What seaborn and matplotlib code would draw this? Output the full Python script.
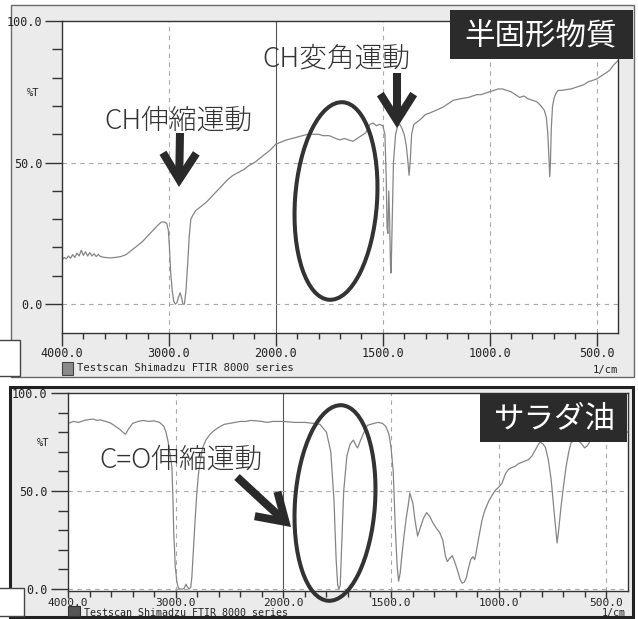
import numpy as np
import pandas as pd
import matplotlib
matplotlib.use('Agg')
import matplotlib.pyplot as plt
import seaborn as sns
from matplotlib.patches import Rectangle, Ellipse, FancyArrowPatch

# --- spectrum of the semi-solid sample (wavenumber 1/cm, %T) ---
semi_wn = [4000, 3980, 3960, 3940, 3920, 3900, 3880, 3860, 3840, 3820, 3800, 3780, 3760, 3740,
           3720, 3700, 3680, 3660, 3640, 3600, 3550, 3500, 3450, 3400, 3350, 3300, 3250, 3200,
           3150, 3100, 3070, 3040, 3020, 3005, 2995, 2985, 2970, 2955, 2940, 2925, 2910, 2895,
           2880, 2870, 2855, 2840, 2825, 2810, 2795, 2775, 2750, 2700, 2650, 2600, 2550, 2500,
           2450, 2400, 2350, 2300, 2250, 2200, 2150, 2100, 2050, 2000, 1950, 1900, 1850, 1800,
           1780, 1750, 1720, 1700, 1680, 1660, 1640, 1620, 1600, 1580, 1560, 1545, 1530, 1515,
           1500, 1490, 1484, 1480, 1476, 1472, 1468, 1464, 1461, 1457, 1450, 1440, 1430, 1420,
           1410, 1400, 1390, 1382, 1377, 1372, 1365, 1355, 1345, 1320, 1300, 1280, 1250, 1220,
           1200, 1170, 1140, 1100, 1060, 1040, 1000, 960, 940, 920, 900, 880, 860, 840, 820, 800,
           780, 760, 745, 735, 728, 722, 719, 716, 712, 706, 698, 690, 680, 660, 640, 620, 600,
           580, 560, 540, 520, 500, 480, 460, 440, 420, 400]
semi_t = [15.5, 16.5, 16.0, 17.0, 16.2, 17.5, 16.5, 18.0, 17.0, 19.0, 17.2, 18.5, 17.0, 18.2,
          17.0, 17.8, 16.8, 17.5, 16.8, 16.5, 16.3, 16.5, 16.8, 17.5, 19.0, 20.5, 22.0, 24.0,
          26.0, 28.0, 29.0, 29.0, 28.5, 26.0, 20.0, 12.0, 5.0, 1.0, 0.0, 0.5, 2.5, 4.0,
          2.0, 0.0, 0.0, 5.0, 14.0, 24.0, 30.0, 31.5, 33.0, 34.5, 36.0, 38.0, 40.0, 42.0,
          44.0, 45.5, 46.5, 47.5, 49.0, 50.0, 51.5, 53.0, 54.5, 56.5, 58.0, 59.0, 60.0, 60.0,
          59.5, 59.5, 58.5, 58.0, 58.5, 58.0, 57.5, 58.5, 59.5, 60.5, 63.5, 64.0, 63.0, 63.5,
          63.0, 60.0, 45.0, 27.0, 25.0, 40.0, 30.0, 14.0, 11.0, 25.0, 50.0, 60.0, 63.0, 63.5,
          62.0, 60.0, 56.0, 50.0, 45.5, 50.0, 60.0, 63.5, 64.0, 65.5, 67.0, 67.5, 68.5, 69.5,
          70.5, 72.0, 72.5, 73.0, 74.0, 74.0, 75.0, 76.0, 76.0, 75.5, 75.0, 74.0, 73.0, 73.5, 72.5, 72.0,
          71.5, 70.0, 68.5, 66.0, 60.0, 50.0, 45.0, 50.0, 62.0, 70.0, 73.0, 74.5, 75.5, 75.5, 75.8, 76.0, 76.5,
          77.0, 77.5, 78.5, 79.0, 79.5, 80.5, 81.5, 82.5, 84.5, 86.0]

# --- spectrum of the salad oil ---
oil_wn = [4000, 3950, 3900, 3850, 3800, 3765, 3730, 3700, 3650, 3605, 3560, 3520, 3480, 3465,
          3440, 3400, 3350, 3300, 3250, 3200, 3150, 3110, 3090, 3070, 3050, 3035, 3025, 3018,
          3012, 3005, 2990, 2975, 2955, 2935, 2920, 2905, 2890, 2875, 2860, 2850, 2835, 2820,
          2805, 2790, 2770, 2750, 2720, 2680, 2640, 2600, 2550, 2500, 2450, 2400, 2350, 2300,
          2250, 2200, 2150, 2100, 2050, 2000, 1950, 1900, 1860, 1830, 1800, 1780, 1765, 1755,
          1748, 1742, 1736, 1730, 1720, 1705, 1690, 1675, 1662, 1655, 1645, 1630, 1610, 1580,
          1560, 1540, 1525, 1510, 1500, 1490, 1480, 1472, 1465, 1458, 1450, 1440, 1430, 1420,
          1413, 1405, 1399, 1390, 1377, 1365, 1350, 1335, 1320, 1307, 1290, 1275, 1260, 1248,
          1239, 1225, 1216, 1205, 1190, 1180, 1170, 1160, 1150, 1140, 1130, 1120, 1112, 1106,
          1095, 1085, 1078, 1065, 1046, 1030, 1015, 1000, 985, 968, 955, 940, 925, 908, 885,
          862, 845, 830, 815, 807, 795, 784, 770, 757, 745, 735, 729, 722, 711, 700, 688, 675,
          665, 650, 633, 615, 601, 590, 578, 560, 540, 500, 450, 400]
oil_t = [84.5, 85.5, 85.0, 86.0, 86.5, 86.7, 86.0, 86.3, 85.5, 84.7, 83.0, 81.5, 79.5, 79.0,
         81.5, 84.5, 85.5, 86.0, 85.5, 85.8, 85.0, 83.0, 80.0, 75.0, 68.0, 62.0, 45.0, 28.0,
         22.0, 12.0, 4.0, 0.5, 0.0, 0.0, 0.5, 2.5, 1.0, 0.0, 1.0, 6.0, 20.0, 35.0,
         48.0, 58.0, 66.0, 72.0, 76.0, 79.0, 81.0, 82.5, 84.0, 84.5, 85.0, 85.5, 85.5, 86.0,
         85.8, 85.5, 85.0, 85.5, 85.5, 85.5, 85.0, 85.0, 84.5, 84.0, 80.0, 70.0, 45.0, 15.0,
         2.0, 0.0, 2.0, 20.0, 50.0, 68.0, 74.0, 76.0, 73.0, 72.0, 75.0, 79.0, 83.5, 84.5,
         85.0, 84.5, 83.0, 79.0, 72.0, 60.0, 30.0, 12.0, 4.0, 8.0, 17.0, 27.0, 36.0, 43.0,
         49.0, 46.0, 44.0, 36.0, 27.0, 31.0, 36.0, 39.0, 37.0, 34.0, 31.0, 29.0, 25.0, 17.0,
         14.0, 16.0, 17.0, 14.0, 9.0, 5.0, 3.0, 3.5, 6.0, 11.0, 15.0, 16.5, 15.0, 18.0,
         25.0, 31.0, 35.0, 40.0, 45.0, 48.0, 50.5, 52.0, 54.0, 59.0, 61.0, 62.0, 62.5, 64.0, 65.0,
         66.0, 68.0, 71.0, 74.0, 75.0, 74.0, 72.4, 66.0, 56.0, 42.0, 30.0, 23.5, 30.0, 42.0, 52.0, 62.0, 70.0,
         74.5, 76.0, 76.0, 74.0, 72.0, 73.0, 75.0, 78.0, 80.0, 81.0, 81.0, 80.0]

major_wn = [4000, 3000, 2000, 1500, 1000, 500]
major_wn_labels = ['4000.0', '3000.0', '2000.0', '1500.0', '1000.0', '500.0']
minor_wn = [3800, 3600, 3400, 3200, 2800, 2600, 2400, 2200,
            1900, 1800, 1700, 1600, 1400, 1300, 1200, 1100, 900, 800, 700, 600]
grid_wn = [3000, 1500, 1000, 500]
major_t = [0, 50, 100]
major_t_labels = ['0.0', '50.0', '100.0']
minor_t = [10, 20, 30, 40, 60, 70, 80, 90]

semi = pd.DataFrame({'wn': semi_wn, 't': semi_t})
oil = pd.DataFrame({'wn': oil_wn, 't': oil_t})


# FTIR style axis: 2x expansion below 2000 1/cm (increasing map, axis inverted via limits)
def wn_fwd(w):
    w = np.asarray(w, dtype=float)
    return np.where(w >= 2000, (w - 2000) / 1000, (w - 2000) / 500)


def wn_inv(u):
    u = np.asarray(u, dtype=float)
    return np.where(u >= 0, 2000 + 1000 * u, 2000 + 500 * u)


sns.set_style('ticks')
plt.rcParams['font.family'] = ['DejaVu Sans Mono']
JP = ['Noto Sans CJK JP', 'DejaVu Sans']
MONO = 'DejaVu Sans Mono'

W, H = 638, 619
fig = plt.figure(figsize=(W / 100, H / 100), dpi=100)
fig.patch.set_facecolor('white')
px = fig.dpi_scale_trans


def P(x, y):
    return (x / 100, (H - y) / 100)


def rect(x0, y0, x1, y1, **kw):
    r = Rectangle(P(x0, y1), (x1 - x0) / 100, (y1 - y0) / 100, transform=px, **kw)
    fig.add_artist(r)
    return r


# window frames
rect(11, 5, 634, 377, facecolor='#ebebeb', edgecolor='#6a6a6a', lw=1, zorder=-5)
rect(10, 387, 633, 617, facecolor='#ebebeb', edgecolor='#222222', lw=2.2, zorder=-5)
# cut-off button at the left
rect(-2, 340, 20, 376, facecolor='white', edgecolor='#444444', lw=1, zorder=-4)
rect(-2, 588, 24, 616, facecolor='white', edgecolor='#444444', lw=1, zorder=-4)


def make_panel(box, data, ylim, tick_pad, xtick_len, xlab_pad, xlab_size):
    x0, y0, x1, y1 = box
    ax = fig.add_axes([x0 / W, 1 - y1 / H, (x1 - x0) / W, (y1 - y0) / H])
    ax.set_facecolor('white')
    ax.set_xscale('function', functions=(wn_fwd, wn_inv))
    for v in grid_wn:
        ax.axvline(v, color='#a8a8a8', lw=0.8, ls=(0, (4, 4)), zorder=1)
    ax.axvline(2000, color='#555555', lw=0.8, zorder=1)
    ax.axhline(50, color='#a8a8a8', lw=0.8, ls=(0, (4, 4)), zorder=1)
    ax.axhline(0, color='#a8a8a8', lw=0.8, ls=(0, (4, 4)), zorder=1)
    sns.lineplot(data=data, x='wn', y='t', ax=ax, color='#858585', lw=0.9,
                 estimator=None, zorder=2)
    ax.set_xlim(4000, 400)
    ax.set_ylim(*ylim)
    ax.set_xlabel('')
    ax.set_ylabel('')
    ax.set_xticks(major_wn)
    ax.set_xticklabels(major_wn_labels)
    ax.set_xticks(minor_wn, minor=True)
    ax.set_yticks(major_t)
    ax.set_yticklabels(major_t_labels)
    ax.set_yticks(minor_t, minor=True)
    ax.tick_params(axis='y', which='major', length=12, width=1, color='#333333',
                   labelsize=8.5, pad=tick_pad, labelcolor='#222222')
    ax.tick_params(axis='y', which='minor', length=7, width=1, color='#333333')
    ax.tick_params(axis='x', which='major', length=xtick_len, width=1, color='#333333',
                   labelsize=xlab_size, pad=xlab_pad, labelcolor='#222222')
    ax.tick_params(axis='x', which='minor', length=4, width=1, color='#333333')
    for lbl in ax.get_xticklabels() + ax.get_yticklabels():
        lbl.set_fontfamily(MONO)
    for s in ax.spines.values():
        s.set_color('#333333')
        s.set_linewidth(1)
    return ax


ax1 = make_panel((62, 21, 618, 333), semi, (-10.2, 100), 2, 9, 1, 8.5)
ax2 = make_panel((68, 393, 628, 591), oil, (-1, 100), 3, 5, 0, 8)

# small window texts
for lx, ly in [(33, 93), (43, 443)]:
    fig.text(*P(lx, ly), '%T', transform=px, ha='center', va='center',
             family=MONO, fontsize=7.5, color='#222222')
rect(62, 362, 73, 375, facecolor='#8a8a8a', edgecolor='#444444', lw=0.8, zorder=3)
rect(68, 606, 80, 616, facecolor='#555555', edgecolor='#333333', lw=0.8, zorder=3)
fig.text(*P(77, 368), 'Testscan Shimadzu FTIR 8000 series', transform=px,
         ha='left', va='center', family=MONO, fontsize=7.6, color='#222222')
fig.text(*P(84, 613), 'Testscan Shimadzu FTIR 8000 series', transform=px,
         ha='left', va='center', family=MONO, fontsize=7.2, color='#222222')
fig.text(*P(605, 370), '1/cm', transform=px, ha='center', va='center',
         family=MONO, fontsize=7.6, color='#222222')
fig.text(*P(614, 613), '1/cm', transform=px, ha='center', va='center',
         family=MONO, fontsize=7.2, color='#222222')

# sample name boxes
rect(450, 10, 633, 59, facecolor='#2b2b2b', edgecolor='none', zorder=5)
fig.text(*P(541, 36), '半固形物質', transform=px, ha='center', va='center',
         family=JP, fontsize=22, color='white', zorder=6)
rect(480, 393, 627, 442, facecolor='#2b2b2b', edgecolor='none', zorder=5)
fig.text(*P(555, 419), 'サラダ油', transform=px, ha='center', va='center',
         family=JP, fontsize=22, color='white', zorder=6)

# annotations
ink = '#2a2a2a'
fig.text(*P(178, 121), 'CH伸縮運動', transform=px, ha='center', va='center',
         family=JP, fontsize=20, color='#333333', fontweight='light', zorder=6)
fig.text(*P(336, 58), 'CH変角運動', transform=px, ha='center', va='center',
         family=JP, fontsize=20, color='#333333', fontweight='light', zorder=6)
fig.text(*P(181, 460), 'C=O伸縮運動', transform=px, ha='center', va='center',
         family=JP, fontsize=20, color='#333333', fontweight='light', zorder=6)

for a, b in [((180, 133), (179, 187)), ((397, 73), (397, 128)), ((237, 477), (291, 527))]:
    arr = FancyArrowPatch(P(*a), P(*b), transform=px,
                          arrowstyle='->,head_length=0.95,head_width=0.6',
                          mutation_scale=20, lw=5.8, color=ink,
                          capstyle='butt', joinstyle='miter',
                          shrinkA=0, shrinkB=0, zorder=6)
    fig.add_artist(arr)

for (cx, cy), w, h, ang in [((336, 201), 82 / 100, 198 / 100, -4),
                             ((335, 503), 80 / 100, 196 / 100, -4)]:
    fig.add_artist(Ellipse(P(cx, cy), w, h, angle=ang, transform=px, fill=False,
                           edgecolor='#333333', lw=2.9, zorder=6))

fig.savefig('out.png', dpi=100)
